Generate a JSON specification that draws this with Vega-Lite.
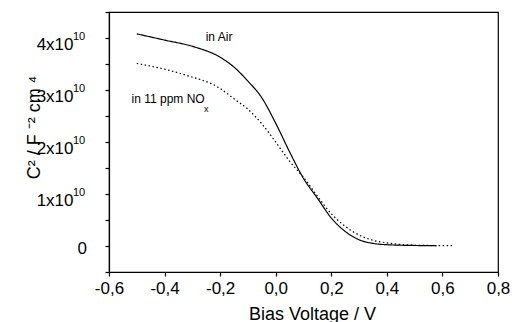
{
  "$schema": "https://vega.github.io/schema/vega-lite/v6.json",
  "width": 389,
  "height": 260,
  "autosize": {"type": "none"},
  "padding": {"left": 109, "top": 12, "right": 14, "bottom": 50},
  "config": {
    "view": {"stroke": "black", "strokeWidth": 1.2},
    "font": "Liberation Sans",
    "axis": {"grid": false, "domainColor": "black", "domainWidth": 1.2, "tickColor": "black", "tickWidth": 1.2, "labelColor": "black", "titleColor": "black", "titleFontWeight": "normal", "labelFont": "Liberation Sans", "titleFont": "Liberation Sans"}
  },
  "resolve": {"axis": {"y": "independent"}},
  "datasets": {
    "curves": [
      {"v": -0.50, "c": 4.08e10, "s": "in Air"},
      {"v": -0.40, "c": 3.96e10, "s": "in Air"},
      {"v": -0.30, "c": 3.84e10, "s": "in Air"},
      {"v": -0.20, "c": 3.63e10, "s": "in Air"},
      {"v": -0.15, "c": 3.44e10, "s": "in Air"},
      {"v": -0.10, "c": 3.17e10, "s": "in Air"},
      {"v": -0.05, "c": 2.85e10, "s": "in Air"},
      {"v": 0.00, "c": 2.36e10, "s": "in Air"},
      {"v": 0.05, "c": 1.81e10, "s": "in Air"},
      {"v": 0.10, "c": 1.30e10, "s": "in Air"},
      {"v": 0.15, "c": 0.92e10, "s": "in Air"},
      {"v": 0.20, "c": 0.54e10, "s": "in Air"},
      {"v": 0.25, "c": 0.28e10, "s": "in Air"},
      {"v": 0.30, "c": 0.12e10, "s": "in Air"},
      {"v": 0.35, "c": 0.05e10, "s": "in Air"},
      {"v": 0.40, "c": 0.025e10, "s": "in Air"},
      {"v": 0.45, "c": 0.015e10, "s": "in Air"},
      {"v": 0.50, "c": 0.01e10, "s": "in Air"},
      {"v": 0.58, "c": 0.005e10, "s": "in Air"},
      {"v": -0.50, "c": 3.51e10, "s": "NOx"},
      {"v": -0.40, "c": 3.40e10, "s": "NOx"},
      {"v": -0.32, "c": 3.28e10, "s": "NOx"},
      {"v": -0.20, "c": 3.03e10, "s": "NOx"},
      {"v": -0.15, "c": 2.83e10, "s": "NOx"},
      {"v": -0.10, "c": 2.63e10, "s": "NOx"},
      {"v": -0.05, "c": 2.35e10, "s": "NOx"},
      {"v": 0.00, "c": 2.00e10, "s": "NOx"},
      {"v": 0.05, "c": 1.63e10, "s": "NOx"},
      {"v": 0.10, "c": 1.32e10, "s": "NOx"},
      {"v": 0.15, "c": 0.96e10, "s": "NOx"},
      {"v": 0.20, "c": 0.62e10, "s": "NOx"},
      {"v": 0.25, "c": 0.38e10, "s": "NOx"},
      {"v": 0.30, "c": 0.21e10, "s": "NOx"},
      {"v": 0.35, "c": 0.11e10, "s": "NOx"},
      {"v": 0.40, "c": 0.06e10, "s": "NOx"},
      {"v": 0.45, "c": 0.03e10, "s": "NOx"},
      {"v": 0.50, "c": 0.015e10, "s": "NOx"},
      {"v": 0.55, "c": 0.01e10, "s": "NOx"},
      {"v": 0.64, "c": 0.005e10, "s": "NOx"}
    ],
    "sups": [
      {"c": 1e10, "t": "10"},
      {"c": 2e10, "t": "10"},
      {"c": 3e10, "t": "10"},
      {"c": 4e10, "t": "10"}
    ],
    "zero": [
      {"c": 0, "t": "0"}
    ],
    "notes": [
      {"v": -0.252, "c": 4.02e10, "t": "in Air"},
      {"v": -0.519, "c": 2.82e10, "t": "in 11 ppm NO"}
    ],
    "subs": [
      {"v": -0.258, "c": 2.64e10, "t": "x"}
    ]
  },
  "layer": [
    {
      "data": {"name": "curves"},
      "mark": {"type": "line", "color": "black", "strokeWidth": 1.2, "interpolate": "monotone"},
      "encoding": {
        "x": {
          "field": "v", "type": "quantitative",
          "scale": {"domain": [-0.6, 0.8], "nice": false, "zero": false},
          "axis": {
            "values": [-0.6, -0.5, -0.4, -0.3, -0.2, -0.1, 0, 0.1, 0.2, 0.3, 0.4, 0.5, 0.6, 0.7, 0.8],
            "labelExpr": "abs(round(datum.value*10))%2==0 ? replace(replace(format(datum.value,'.1f'),'.',','),'\u2212','-') : ''",
            "tickSize": 4,
            "labelFontSize": 17,
            "labelPadding": 4,
            "labelFlush": false,
            "labelOverlap": false,
            "title": "Bias Voltage / V",
            "titleFontSize": 18,
            "titleX": 203,
            "titleY": 33,
            "titleAlign": "center",
            "titleBaseline": "top"
          }
        },
        "y": {
          "field": "c", "type": "quantitative",
          "scale": {"domain": [-5000000000, 45000000000], "nice": false, "zero": false},
          "axis": {
            "orient": "left",
            "values": [-5000000000, 0, 5000000000, 10000000000, 15000000000, 20000000000, 25000000000, 30000000000, 35000000000, 40000000000, 45000000000],
            "labelExpr": "(datum.value % 10000000000 == 0 && datum.value > 0) ? format(datum.value/10000000000,'d')+'x10' : ''",
            "tickSize": 4,
            "labelFontSize": 17,
            "labelPadding": 32,
            "labelOffset": 6,
            "labelFlush": false,
            "labelOverlap": false,
            "title": "C² / F ⁻² cm ⁴",
            "titleFontSize": 18,
            "titleAngle": 270,
            "titleX": -70,
            "titleY": 115,
            "titleAlign": "center",
            "titleBaseline": "alphabetic"
          }
        },
        "strokeDash": {
          "field": "s", "type": "nominal",
          "scale": {"domain": ["in Air", "NOx"], "range": [[1, 0], [1.5, 2.5]]},
          "legend": null
        }
      }
    },
    {
      "data": {"name": "sups"},
      "mark": {"type": "text", "align": "left", "baseline": "middle", "dx": -36, "dy": -1, "fontSize": 11, "fill": "black", "font": "Liberation Sans"},
      "encoding": {
        "x": {"datum": -0.6, "type": "quantitative"},
        "y": {"field": "c", "type": "quantitative", "axis": null},
        "text": {"field": "t"}
      }
    },
    {
      "data": {"name": "zero"},
      "mark": {"type": "text", "align": "right", "baseline": "middle", "dx": -22, "dy": 2.5, "fontSize": 17, "fill": "black", "font": "Liberation Sans"},
      "encoding": {
        "x": {"datum": -0.6, "type": "quantitative"},
        "y": {"field": "c", "type": "quantitative", "axis": null},
        "text": {"field": "t"}
      }
    },
    {
      "data": {"name": "notes"},
      "mark": {"type": "text", "align": "left", "baseline": "middle", "fontSize": 12, "fill": "black", "font": "Liberation Sans"},
      "encoding": {
        "x": {"field": "v", "type": "quantitative"},
        "y": {"field": "c", "type": "quantitative", "axis": null},
        "text": {"field": "t"}
      }
    },
    {
      "data": {"name": "subs"},
      "mark": {"type": "text", "align": "left", "baseline": "middle", "fontSize": 9, "fill": "black", "font": "Liberation Sans"},
      "encoding": {
        "x": {"field": "v", "type": "quantitative"},
        "y": {"field": "c", "type": "quantitative", "axis": null},
        "text": {"field": "t"}
      }
    }
  ]
}
